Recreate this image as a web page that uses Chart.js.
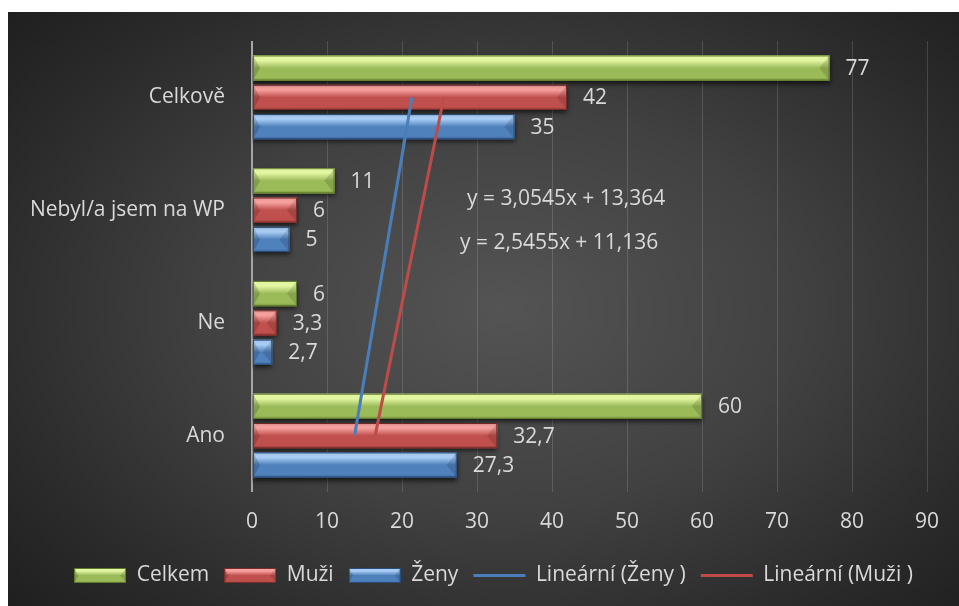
<!DOCTYPE html>
<html>
<head>
<meta charset="utf-8">
<script src="https://cdn.jsdelivr.net/npm/chart.js@4/dist/chart.umd.min.js"></script>
<style>
  html, body { margin: 0; padding: 0; background: #fff; }
  #wrap {
    position: absolute; left: 8px; top: 12px; width: 951px; height: 594px;
    background: radial-gradient(ellipse 70% 75% at 52% 50%, #545454 0%, #414141 45%, #2a2a2a 80%, #1f1f1f 100%);
  }
</style>
</head>
<body>
<div id="wrap"><canvas id="chart" width="951" height="594"></canvas></div>
<script>
/* ---------- Data ---------- */
const categories = ['Celkově', 'Nebyl/a jsem na WP', 'Ne', 'Ano'];
const celkem = [77, 11, 6, 60];
const muzi = [42, 6, 3.3, 32.7];
const zeny = [35, 5, 2.7, 27.3];
// Excel category number (Ano = 1 ... Celkově = 4) used by the trendlines
const categoryNumber = [4, 3, 2, 1];
// trendline coefficients: [slope, intercept]
const trendMuzi = [3.0545, 13.364];
const trendZeny = [2.5455, 11.136];
const xTicks = [0, 10, 20, 30, 40, 50, 60, 70, 80, 90];

const TEXT = '#d9d9d9';
const FONT = "'Open Sans', sans-serif";
const FSIZE = 21;

const PALETTES = {
  green: { light: '#e2f6a2', main: '#9bbb59', dark: '#738f38', edge: '#5f7a2c' },
  red:   { light: '#f6a19e', main: '#c0504d', dark: '#923936', edge: '#7a2c2a' },
  blue:  { light: '#a9cdf5', main: '#4f81bd', dark: '#355f92', edge: '#2a4c78' }
};

function trendValues(coef) {
  return categoryNumber.map(n => +(coef[0] * n + coef[1]).toFixed(3));
}

function fmt(v) {
  return String(v).replace('.', ',');
}

// Bevel-like fill used for bars and legend swatches
function paintBevel(ctx, left, top, w, h, pal) {
  const g = ctx.createLinearGradient(0, top, 0, top + h);
  g.addColorStop(0, pal.light);
  g.addColorStop(0.2, pal.light);
  g.addColorStop(0.5, pal.main);
  g.addColorStop(0.88, pal.main);
  g.addColorStop(1, pal.dark);
  ctx.fillStyle = g;
  ctx.fillRect(left, top, w, h);

  const b = Math.min(h * 0.4, w / 2);
  const mid = top + h / 2;
  ctx.fillStyle = 'rgba(0,0,0,0.13)';
  ctx.beginPath();
  ctx.moveTo(left + w, top);
  ctx.lineTo(left + w - b, mid);
  ctx.lineTo(left + w, top + h);
  ctx.closePath();
  ctx.fill();
  ctx.fillStyle = 'rgba(0,0,0,0.16)';
  ctx.beginPath();
  ctx.moveTo(left, top);
  ctx.lineTo(left + b * 0.7, mid);
  ctx.lineTo(left, top + h);
  ctx.closePath();
  ctx.fill();

  ctx.strokeStyle = pal.edge;
  ctx.lineWidth = 1;
  ctx.strokeRect(left + 0.5, top + 0.5, w - 1, h - 1);
}

function swatch(pal) {
  const c = document.createElement('canvas');
  c.width = 52; c.height = 15;
  paintBevel(c.getContext('2d'), 0, 0, 52, 15, pal);
  return c;
}

/* ---------- Plugins ---------- */
const barStyle = {
  id: 'barStyle',
  beforeDatasetDraw(chart, args) {
    if (args.meta.type !== 'bar') return;
    const ctx = chart.ctx;
    ctx.save();
    ctx.shadowColor = 'rgba(0,0,0,0.65)';
    ctx.shadowBlur = 5;
    ctx.shadowOffsetY = 3;
  },
  afterDatasetDraw(chart, args) {
    if (args.meta.type !== 'bar') return;
    const ctx = chart.ctx;
    ctx.restore();
    const pal = chart.data.datasets[args.index].palette;
    args.meta.data.forEach(bar => {
      const left = Math.min(bar.base, bar.x);
      const w = Math.abs(bar.x - bar.base);
      const top = bar.y - bar.height / 2;
      ctx.save();
      paintBevel(ctx, left, top, w, bar.height, pal);
      ctx.restore();
    });
  }
};

const valueLabels = {
  id: 'valueLabels',
  afterDatasetsDraw(chart) {
    const ctx = chart.ctx;
    ctx.save();
    ctx.font = FSIZE + 'px ' + FONT;
    ctx.fillStyle = TEXT;
    ctx.textAlign = 'left';
    ctx.textBaseline = 'middle';
    chart.data.datasets.forEach((ds, i) => {
      if (ds.type === 'line') return;
      chart.getDatasetMeta(i).data.forEach((bar, j) => {
        ctx.fillText(fmt(ds.data[j]), bar.x + 16, bar.y + 1);
      });
    });
    // trendline equations
    const a = chart.chartArea;
    ctx.fillText('y = ' + fmt(trendMuzi[0]) + 'x + ' + fmt(trendMuzi[1]), a.left + 215, a.top + 158);
    ctx.fillText('y = ' + fmt(trendZeny[0]) + 'x + ' + fmt(trendZeny[1]), a.left + 208, a.top + 202);
    ctx.restore();
  }
};

// nudge the legend row to where Excel put it
const legendShift = {
  id: 'legendShift',
  afterLayout(chart) {
    chart.legend.left += 26;
    chart.legend.right += 26;
  }
};

/* ---------- Chart ---------- */
const ctx = document.getElementById('chart');

new Chart(ctx, {
  type: 'bar',
  data: {
    labels: categories,
    datasets: [
      { label: 'Celkem', data: celkem, backgroundColor: PALETTES.green.main, palette: PALETTES.green, legendImg: swatch(PALETTES.green) },
      { label: 'Muži', data: muzi, backgroundColor: PALETTES.red.main, palette: PALETTES.red, legendImg: swatch(PALETTES.red) },
      { label: 'Ženy', data: zeny, backgroundColor: PALETTES.blue.main, palette: PALETTES.blue, legendImg: swatch(PALETTES.blue) },
      {
        type: 'line', label: 'Lineární (Ženy )', data: trendValues(trendZeny), indexAxis: 'y',
        borderColor: '#4a7ebb', borderWidth: 3, pointRadius: 0, order: -1
      },
      {
        type: 'line', label: 'Lineární (Muži )', data: trendValues(trendMuzi), indexAxis: 'y',
        borderColor: '#be4b48', borderWidth: 3, pointRadius: 0, order: -1
      }
    ]
  },
  options: {
    indexAxis: 'y',
    responsive: false,
    animation: false,
    devicePixelRatio: 1,
    layout: { padding: { top: 29, right: 32, left: 0, bottom: 10 } },
    datasets: {
      bar: { categoryPercentage: 0.78, barPercentage: 0.86, borderWidth: 0 }
    },
    scales: {
      x: {
        min: 0, max: 90,
        afterBuildTicks: scale => { scale.ticks = xTicks.map(v => ({ value: v })); },
        afterFit: scale => { scale.height = 58; },
        border: { display: false },
        grid: {
          drawTicks: false,
          color: c => c.index === 0 ? '#a6a6a6' : 'rgba(255,255,255,0.14)',
          lineWidth: c => c.index === 0 ? 2 : 1
        },
        ticks: { color: TEXT, font: { family: FONT, size: FSIZE }, padding: 17 }
      },
      y: {
        afterFit: scale => {
          scale.width = 244;
          scale.paddingTop = 0;
          scale.paddingBottom = 0;
        },
        border: { display: false },
        grid: { display: false, drawTicks: false },
        ticks: { color: TEXT, font: { family: FONT, size: FSIZE }, padding: 27 }
      }
    },
    plugins: {
      tooltip: { enabled: false },
      legend: {
        position: 'bottom',
        labels: {
          color: TEXT,
          font: { family: FONT, size: FSIZE },
          padding: 15,
          boxWidth: 52,
          boxHeight: 15,
          usePointStyle: true,
          pointStyleWidth: 52,
          generateLabels: chart => chart.data.datasets.map((ds, i) => ({
            text: ds.label,
            datasetIndex: i,
            fontColor: TEXT,
            fillStyle: ds.borderColor || ds.backgroundColor,
            strokeStyle: ds.borderColor || ds.backgroundColor,
            lineWidth: 3,
            pointStyle: ds.type === 'line' ? 'line' : ds.legendImg,
            hidden: false
          }))
        }
      }
    }
  },
  plugins: [barStyle, valueLabels, legendShift]
});
</script>
</body>
</html>
